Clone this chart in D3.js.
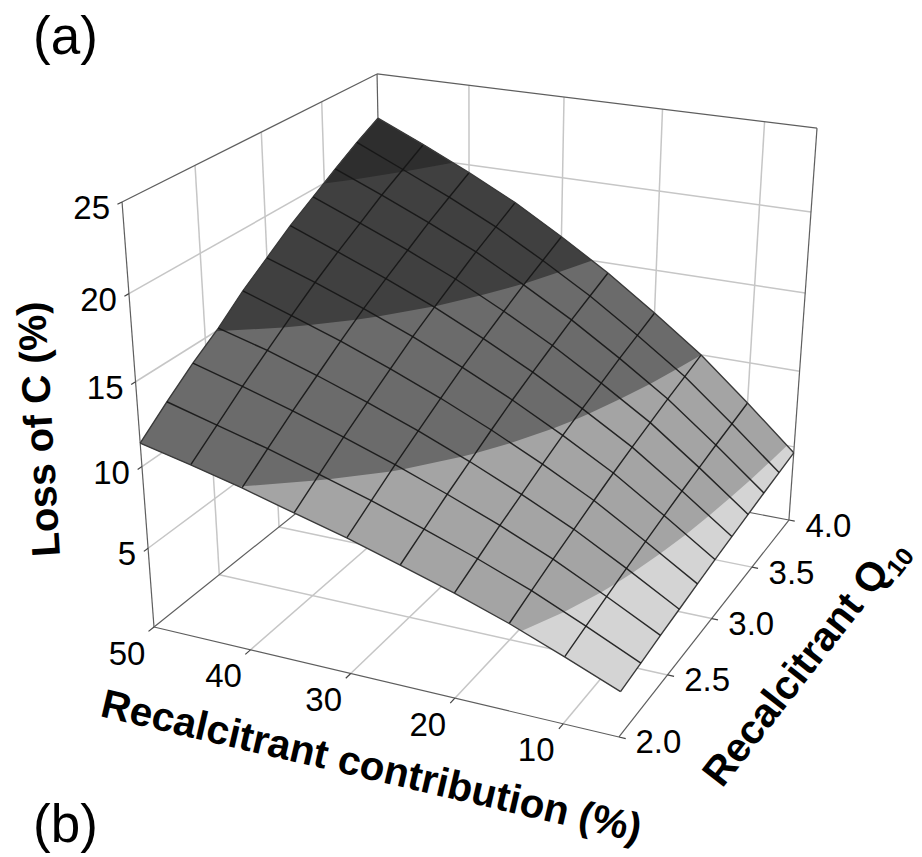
<!DOCTYPE html>
<html>
<head>
<meta charset="utf-8">
<script src="https://cdn.jsdelivr.net/npm/d3@7"></script>
<style>
html,body{margin:0;padding:0;background:#fff}
svg{display:block}
text{font-family:"Liberation Sans",Arial,sans-serif;fill:#000}
</style>
</head>
<body>
<svg id="chart" width="922" height="857"></svg>
<script>
// ---- data ----
const contributions = [50,45,40,35,30,25,20,15,10,5];
const q10s = [2.0,2.2,2.4,2.6,2.8,3.0,3.2,3.4,3.6,3.8,4.0];
const lossAt50 = [11.40,12.75,14.00,15.10,16.40,17.50,18.60,19.55,20.50,21.40,22.20];
const lossAt45 = [10.70,11.92,13.15,14.27,15.39,16.46,17.43,18.35,19.27,20.08,20.90];
const lossAt40 = [ 9.95,11.10,12.24,13.29,14.34,15.35,16.25,17.11,17.97,18.74,19.50];
const lossAt35 = [ 9.10,10.17,11.24,12.22,13.19,14.13,14.97,15.78,16.58,17.29,18.00];
const lossAt30 = [ 8.27, 9.23,10.18,11.06,11.94,12.77,13.53,14.25,14.96,15.60,16.24];
const lossAt25 = [ 7.34, 8.18, 9.02, 9.80,10.57,11.31,11.97,12.61,13.24,13.80,14.36];
const lossAt20 = [ 6.37, 7.07, 7.78, 8.42, 9.07, 9.69,10.24,10.77,11.30,11.77,12.24];
const lossAt15 = [ 5.28, 5.85, 6.41, 6.93, 7.45, 7.95, 8.40, 8.82, 9.24, 9.62,10.00];
const lossAt10 = [ 4.03, 4.43, 4.83, 5.20, 5.56, 5.91, 6.23, 6.53, 6.83, 7.09, 7.36];
const lossAt5  = [ 2.73, 2.95, 3.18, 3.38, 3.59, 3.79, 3.96, 4.13, 4.30, 4.45, 4.60];
const lossRows = [lossAt50,lossAt45,lossAt40,lossAt35,lossAt30,lossAt25,lossAt20,lossAt15,lossAt10,lossAt5];

const contributionTicks = [50,40,30,20,10];
const q10Ticks = [2.0,2.5,3.0,3.5,4.0];
const lossTicks = [5,10,15,20,25];
const bandThresholds = [5,10,15,20];
const bandColors = ["#d4d4d4","#a4a4a4","#6b6b6b","#404040","#2e2e2e"];

// ---- scales: data -> unit cube ----
const xS = d3.scaleLinear().domain([50,5]).range([0,1]);
const qS = d3.scaleLinear().domain([2,4]).range([0,1]);
const zS = d3.scaleLinear().domain([0,25]).range([0,1]);

// ---- perspective camera: unit cube -> screen ----
const camX = [413.4, 301.6, -43.0, 154];
const camY = [48.6, -102.8, -443.3, 627];
const camW = [-0.0833, 0.1848, -0.0905, 1];
function project(x,q,z){
  const u=xS(x), v=qS(q), w=zS(z);
  const d=camW[0]*u+camW[1]*v+camW[2]*w+camW[3];
  return [(camX[0]*u+camX[1]*v+camX[2]*w+camX[3])/d,
          (camY[0]*u+camY[1]*v+camY[2]*w+camY[3])/d];
}

const svg = d3.select("#chart");
const line = d3.line();
const xMin=5, xMax=50, qMin=2, qMax=4, zMax=25;
const GRID="#c6c6c6", BOX="#5e5e5e";

function seg(g,a,b,color,width){
  g.append("path").attr("d",line([a,b])).attr("fill","none")
   .attr("stroke",color).attr("stroke-width",width);
}

// ---- walls and floor grid ----
const gGrid = svg.append("g");
lossTicks.filter(z=>z<zMax).forEach(z=>{
  seg(gGrid,project(xMax,qMin,z),project(xMax,qMax,z),GRID,1.5);
  seg(gGrid,project(xMax,qMax,z),project(xMin,qMax,z),GRID,1.5);
});
q10Ticks.filter(q=>q>qMin&&q<qMax).forEach(q=>{
  seg(gGrid,project(xMax,q,0),project(xMax,q,zMax),GRID,1.5);
  seg(gGrid,project(xMax,q,0),project(xMin,q,0),GRID,1.5);
});
contributionTicks.filter(x=>x<xMax).forEach(x=>{
  seg(gGrid,project(x,qMax,0),project(x,qMax,zMax),GRID,1.5);
  seg(gGrid,project(x,qMin,0),project(x,qMax,0),GRID,1.5);
});

// ---- box edges ----
const gBox = svg.append("g");
[
 [[xMax,qMin,0],[xMax,qMin,zMax]],
 [[xMax,qMin,zMax],[xMax,qMax,zMax]],
 [[xMax,qMax,zMax],[xMin,qMax,zMax]],
 [[xMin,qMax,zMax],[xMin,qMax,0]],
 [[xMax,qMax,0],[xMax,qMax,zMax]],
 [[xMax,qMin,0],[xMin,qMin,0]],
 [[xMin,qMin,0],[xMin,qMax,0]],
 [[xMax,qMin,0],[xMax,qMax,0]],
 [[xMax,qMax,0],[xMin,qMax,0]]
].forEach(([a,b])=>seg(gBox,project(...a),project(...b),BOX,1.2));

// ---- surface: colour bands ----
const nQ=q10s.length, nX=contributions.length;
const flat=[]; lossRows.forEach(r=>r.forEach(v=>flat.push(v)));
function surfacePoint(gx,gy){
  const fq=Math.max(0,Math.min(nQ-1,gx-0.5));
  const fx=Math.max(0,Math.min(nX-1,gy-0.5));
  const i0=Math.min(nQ-2,Math.floor(fq)), j0=Math.min(nX-2,Math.floor(fx));
  const s=fq-i0, t=fx-j0;
  const z=(1-s)*(1-t)*lossRows[j0][i0]+s*(1-t)*lossRows[j0][i0+1]
         +(1-s)*t*lossRows[j0+1][i0]+s*t*lossRows[j0+1][i0+1];
  const q=q10s[i0]+s*(q10s[i0+1]-q10s[i0]);
  const x=contributions[j0]+t*(contributions[j0+1]-contributions[j0]);
  return project(x,q,z);
}
const gSurf=svg.append("g");
const outline=[];
q10s.forEach((q,i)=>outline.push(project(contributions[nX-1],q,lossRows[nX-1][i])));
contributions.slice().reverse().forEach((x,j)=>outline.push(project(x,qMax,lossRows[nX-1-j][nQ-1])));
q10s.slice().reverse().forEach((q,i)=>outline.push(project(xMax,q,lossRows[0][nQ-1-i])));
contributions.forEach((x,j)=>outline.push(project(x,qMin,lossRows[j][0])));
gSurf.append("path").attr("d",line(outline)+"Z").attr("fill",bandColors[0]);

const contourGen=d3.contours().size([nQ,nX]).smooth(true).thresholds(bandThresholds);
contourGen(flat).forEach((c,k)=>{
  const d=c.coordinates.map(poly=>poly.map(ring=>
    line(ring.map(p=>surfacePoint(p[0],p[1])))+"Z").join("")).join("");
  gSurf.append("path").attr("d",d).attr("fill",bandColors[k+1]).attr("stroke","none");
});

// ---- surface: mesh ----
lossRows.forEach((r,j)=>{
  const edge=j===0||j===nX-1;
  gSurf.append("path").attr("d",line(r.map((z,i)=>project(contributions[j],q10s[i],z))))
   .attr("fill","none").attr("stroke",edge?"#3a3a3a":"#151515").attr("stroke-width",1.4).attr("stroke-opacity",edge?1:0.9);
});
q10s.forEach((q,i)=>{
  const edge=i===0||i===nQ-1;
  gSurf.append("path").attr("d",line(lossRows.map((r,j)=>project(contributions[j],q,r[i]))))
   .attr("fill","none").attr("stroke",edge?"#3a3a3a":"#151515").attr("stroke-width",1.4).attr("stroke-opacity",edge?1:0.9);
});

// ---- ticks and tick labels ----
const gAxis=svg.append("g");
const TICK="#444", LBL=33;
lossTicks.forEach(z=>{
  const p=project(xMax,qMin,z), t=project(xMax,qMin-0.03,z);
  seg(gAxis,p,t,TICK,1.2);
  gAxis.append("text").attr("x",p[0]-12).attr("y",p[1]+17).attr("text-anchor","end")
    .attr("font-size",LBL).text(z);
});
contributionTicks.forEach(x=>{
  const p=project(x,qMin,0), t=project(x,qMin-0.04,0);
  seg(gAxis,p,t,TICK,1.2);
  gAxis.append("text").attr("x",p[0]-27).attr("y",p[1]+37.5).attr("text-anchor","middle")
    .attr("font-size",LBL).text(x);
});
q10Ticks.forEach(q=>{
  const p=project(xMin,q,0), t=project(xMin-0.6,q,0);
  seg(gAxis,p,t,TICK,1.2);
  gAxis.append("text").attr("x",p[0]+39.5).attr("y",p[1]+16.5).attr("text-anchor","middle")
    .attr("font-size",LBL).text(q.toFixed(1));
});

// ---- titles ----
svg.append("text").attr("x",33).attr("y",54).attr("font-size",53).text("(a)");
svg.append("text").attr("x",33).attr("y",842).attr("font-size",53).text("(b)");
svg.append("text").attr("transform","translate(60,556) rotate(-93.5)")
  .attr("font-size",40).attr("font-weight","bold").text("Loss of C (%)");
svg.append("text").attr("transform","translate(99,716) rotate(13.2)")
  .attr("font-size",40.5).attr("font-weight","bold").text("Recalcitrant contribution (%)");
const qT=svg.append("text").attr("transform","translate(722,789) rotate(-52)")
  .attr("font-size",40.5).attr("font-weight","bold");
qT.append("tspan").text("Recalcitrant Q");
qT.append("tspan").attr("font-size",25).attr("dy",9).text("10");
</script>
</body>
</html>
